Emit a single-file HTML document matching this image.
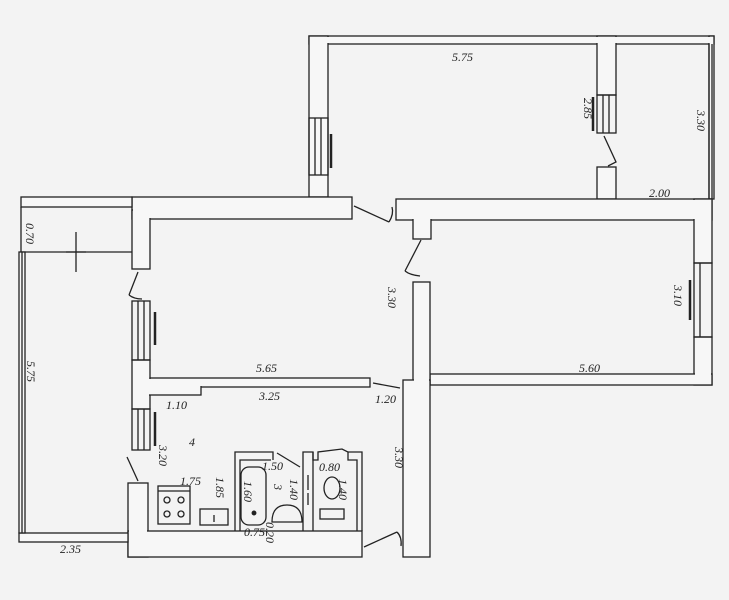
<!DOCTYPE html>
<html><head><meta charset="utf-8"><style>
html,body{margin:0;padding:0;background:#f3f3f3;}
svg{display:block;}
text{font-family:"Liberation Serif",serif;font-style:italic;font-size:12px;fill:#222;}
</style></head><body>
<svg width="729" height="600" viewBox="0 0 729 600" xmlns="http://www.w3.org/2000/svg">
<rect width="729" height="600" fill="#f3f3f3"/>
<g id="w" stroke="#222" stroke-width="1.3" fill="#f7f7f7">
<!-- walls strokes -->
<rect x="309" y="36" width="405" height="8"/>
<rect x="309" y="36" width="19" height="161"/>
<rect x="597" y="36" width="19" height="59"/>
<rect x="597" y="167" width="19" height="32"/>
<rect x="709" y="36" width="5" height="163"/>
<rect x="396" y="199" width="316" height="21"/>
<rect x="413" y="215" width="18" height="24"/>
<rect x="694" y="199" width="18" height="64"/>
<rect x="694" y="337" width="18" height="48"/>
<rect x="430" y="374" width="282" height="11"/>
<rect x="413" y="282" width="17" height="103"/>
<rect x="403" y="380" width="27" height="177"/>
<rect x="132" y="197" width="220" height="22"/>
<rect x="21" y="197" width="111" height="10"/>
<rect x="132" y="210" width="18" height="59"/>
<rect x="132" y="360" width="18" height="49"/>
<rect x="150" y="378" width="220" height="9"/>
<rect x="140" y="383" width="61" height="12"/>
<rect x="128" y="483" width="20" height="74"/>
<rect x="128" y="531" width="234" height="26"/>
<rect x="19" y="533" width="109" height="9"/>
</g>
<g fill="#f7f7f7">
<rect x="310" y="37" width="403" height="6"/>
<rect x="310" y="37" width="17" height="159"/>
<rect x="598" y="37" width="17" height="57"/>
<rect x="598" y="168" width="17" height="30"/>
<rect x="397" y="200" width="314" height="19"/>
<rect x="414" y="216" width="16" height="22"/>
<rect x="695" y="200" width="16" height="62"/>
<rect x="695" y="338" width="16" height="46"/>
<rect x="431" y="375" width="280" height="9"/>
<rect x="414" y="283" width="15" height="101"/>
<rect x="404" y="381" width="25" height="175"/>
<rect x="133" y="198" width="218" height="20"/>
<rect x="22" y="198" width="109" height="8"/>
<rect x="133" y="199" width="16" height="69"/>
<rect x="133" y="361" width="16" height="47"/>
<rect x="133" y="379" width="236" height="7"/>
<rect x="141" y="384" width="59" height="10"/>
<rect x="129" y="484" width="18" height="72"/>
<rect x="129" y="532" width="232" height="24"/>
<rect x="20" y="534" width="107" height="7"/>
</g>
<g stroke="#222" stroke-width="1.3" fill="none">
<!-- closet right double line -->
<line x1="709" y1="44" x2="709" y2="199"/><line x1="712" y1="44" x2="712" y2="199"/>
<!-- balcony -->
<polyline points="21,207 21,252 132,252"/>
<rect x="19" y="252" width="6" height="281" fill="#f7f7f7"/>
<line x1="22" y1="252" x2="22" y2="533"/>
<line x1="76" y1="232" x2="76" y2="272"/><line x1="66" y1="252" x2="86" y2="252"/>
<!-- windows -->
<rect x="309" y="118" width="19" height="57"/><line x1="315" y1="118" x2="315" y2="175"/><line x1="321" y1="118" x2="321" y2="175"/>
<line x1="331" y1="134" x2="331" y2="168" stroke-width="2.5"/>
<rect x="597" y="95" width="19" height="38"/><line x1="603" y1="95" x2="603" y2="133"/><line x1="609" y1="95" x2="609" y2="133"/>
<line x1="593" y1="97" x2="593" y2="131" stroke-width="2.5"/>
<rect x="694" y="263" width="18" height="74"/><line x1="700" y1="263" x2="700" y2="337"/>
<line x1="690" y1="280" x2="690" y2="320" stroke-width="2.5"/>
<rect x="132" y="301" width="18" height="59"/><line x1="138" y1="301" x2="138" y2="360"/><line x1="144" y1="301" x2="144" y2="360"/>
<line x1="155" y1="312" x2="155" y2="345" stroke-width="2.5"/>
<rect x="132" y="409" width="18" height="41"/><line x1="138" y1="409" x2="138" y2="450"/><line x1="144" y1="409" x2="144" y2="450"/>
<line x1="155" y1="412" x2="155" y2="446" stroke-width="2.5"/>
<!-- doors -->
<polyline points="604,136 616,162 608,166"/>
<line x1="354" y1="206" x2="389" y2="222"/><path d="M389,222 Q394,214 392,207"/>
<line x1="421" y1="240" x2="405" y2="271"/><path d="M405,271 Q410,275 420,276"/>
<line x1="138" y1="272" x2="129" y2="295"/><path d="M129,295 Q134,299 142,299"/>
<line x1="127" y1="457" x2="138" y2="481"/>
<line x1="373" y1="383" x2="400" y2="388"/>
<line x1="364" y1="547" x2="397" y2="532"/><path d="M397,532 Q402,537 401,546"/>
<line x1="277" y1="453" x2="300" y2="467"/>
<!-- bathroom block -->
<polyline points="235,531 235,452 273,452 273,460"/>
<polyline points="240,531 240,460 271,460"/>
<rect x="241" y="467" width="25" height="58" rx="8"/>
<circle cx="254" cy="513" r="1.8" fill="#222"/>
<path d="M272,522 Q272,505 287,505 Q302,505 302,522 Z"/>
<polyline points="303,531 303,452 313,452 313,531"/>
<line x1="308" y1="475" x2="308" y2="490"/><line x1="308" y1="493" x2="308" y2="505"/>
<polyline points="313,452 313,460 318,460 318,452 342,449 348,452 348,460 357,460 357,531"/>
<polyline points="348,452 362,452 362,531"/>
<ellipse cx="332" cy="488" rx="8" ry="11"/>
<rect x="320" y="509" width="24" height="10"/>
<!-- stove & sink -->
<rect x="158" y="486" width="32" height="38"/><line x1="158" y1="491" x2="190" y2="491"/>
<circle cx="167" cy="500" r="3"/><circle cx="181" cy="500" r="3"/><circle cx="167" cy="514" r="3"/><circle cx="181" cy="514" r="3"/>
<rect x="200" y="509" width="28" height="16"/><line x1="214" y1="515" x2="214" y2="522"/>
</g>
<text x="452" y="61">5.75</text>
<text x="649" y="197">2.00</text>
<text x="579" y="372">5.60</text>
<text x="256" y="372">5.65</text>
<text x="259" y="400">3.25</text>
<text x="375" y="403">1.20</text>
<text x="166" y="409">1.10</text>
<text x="189" y="446">4</text>
<text x="180" y="485">1.75</text>
<text x="262" y="470">1.50</text>
<text x="319" y="471">0.80</text>
<text x="244" y="536">0.75</text>
<text x="60" y="553">2.35</text>
<g font-size="12">
<text transform="translate(584,98) rotate(90)">2.85</text>
<text transform="translate(697,110) rotate(90)">3.30</text>
<text transform="translate(674,285) rotate(90)">3.10</text>
<text transform="translate(388,287) rotate(90)">3.30</text>
<text transform="translate(395,447) rotate(90)">3.30</text>
<text transform="translate(159,445) rotate(90)">3.20</text>
<text transform="translate(216,477) rotate(90)">1.85</text>
<text transform="translate(244,481) rotate(90)">1.60</text>
<text transform="translate(274,484) rotate(90)">3</text>
<text transform="translate(290,479) rotate(90)">1.40</text>
<text transform="translate(339,479) rotate(90)">1.40</text>
<text transform="translate(26,223) rotate(90)">0.70</text>
<text transform="translate(27,361) rotate(90)">5.75</text>
<text transform="translate(266,522) rotate(90)" font-size="8">0.20</text>
</g>
</svg>
</body></html>
